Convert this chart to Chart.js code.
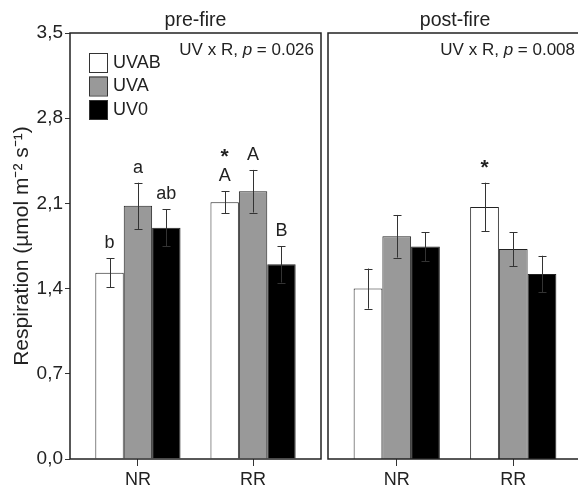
<!DOCTYPE html>
<html>
<head>
<meta charset="utf-8">
<script src="https://cdn.jsdelivr.net/npm/chart.js@4/dist/chart.umd.min.js"></script>
<style>
  html, body { margin: 0; padding: 0; background: #fff; overflow: hidden; }
  #pre { position: absolute; left: 0; top: 0; }
  #post { position: absolute; left: 324px; top: 0; }
</style>
</head>
<body>
<canvas id="pre" width="324" height="492"></canvas>
<canvas id="post" width="258" height="492"></canvas>
<script>
const categories = ['NR', 'RR'];
const treatments = ['UVAB', 'UVA', 'UV0'];
const treatmentColors = ['#ffffff', '#999999', '#000000'];
const yTicks = [0, 0.7, 1.4, 2.1, 2.8, 3.5];

// pre-fire means and standard errors
const preUVAB = [1.53, 2.11];
const preUVA = [2.08, 2.20];
const preUV0 = [1.90, 1.60];
const preUVABErr = [0.12, 0.09];
const preUVAErr = [0.19, 0.175];
const preUV0Err = [0.15, 0.15];
const preUVABLetters = ['b', 'A'];
const preUVALetters = ['a', 'A'];
const preUV0Letters = ['ab', 'B'];
const preStars = ['', '*'];

// post-fire
const postUVAB = [1.40, 2.07];
const postUVA = [1.83, 1.725];
const postUV0 = [1.745, 1.52];
const postUVABErr = [0.165, 0.2];
const postUVAErr = [0.175, 0.14];
const postUV0Err = [0.12, 0.15];
const postStars = ['', '*'];

const FONT = "'Liberation Sans', Arial, sans-serif";
const TXT = '#222';

function ds(i, values, errors, letters, stars) {
  return {
    label: treatments[i],
    data: values.map((v, k) => ({ x: k, y: v })),
    errors: errors,
    letters: letters || [],
    stars: stars || [],
    backgroundColor: treatmentColors[i],
    borderColor: '#222',
    borderWidth: 1,
    categoryPercentage: 0.74,
    barPercentage: 1
  };
}

const panelDecor = {
  id: 'panelDecor',
  afterDatasetsDraw(chart, args, opts) {
    const ctx = chart.ctx;
    const area = chart.chartArea;
    const y = chart.scales.y;
    ctx.save();
    // error bars and letters
    chart.data.datasets.forEach((d, di) => {
      const meta = chart.getDatasetMeta(di);
      meta.data.forEach((bar, i) => {
        const v = d.data[i].y, e = d.errors[i];
        const top = y.getPixelForValue(v + e);
        const bot = y.getPixelForValue(v - e);
        const x = Math.round(bar.x) + 0.5;
        ctx.strokeStyle = '#333';
        ctx.lineWidth = 1;
        ctx.beginPath();
        ctx.moveTo(x, top); ctx.lineTo(x, bot);
        ctx.moveTo(x - 4, Math.round(top) + 0.5); ctx.lineTo(x + 4, Math.round(top) + 0.5);
        ctx.moveTo(x - 4, Math.round(bot) + 0.5); ctx.lineTo(x + 4, Math.round(bot) + 0.5);
        ctx.stroke();
        ctx.fillStyle = TXT;
        ctx.textAlign = 'center';
        ctx.textBaseline = 'alphabetic';
        const letter = d.letters[i];
        if (letter) {
          ctx.font = '18px ' + FONT;
          ctx.fillText(letter, bar.x, top - 10);
        }
        if (d.stars[i]) {
          ctx.font = 'bold 21px ' + FONT;
          ctx.fillText(d.stars[i], bar.x, letter ? top - 28 : top - 9);
        }
      });
    });
    // panel box
    ctx.strokeStyle = '#222';
    ctx.lineWidth = 1.5;
    ctx.strokeRect(area.left, area.top, area.right - area.left, area.bottom - area.top);
    // panel title
    ctx.fillStyle = TXT;
    ctx.textAlign = 'center';
    ctx.font = '19.5px ' + FONT;
    ctx.fillText(opts.title, (area.left + area.right) / 2, area.top - 7);
    // interaction text, p in italics
    const parts = [['UV x R, ', ''], ['p', 'italic '], [' = ' + opts.pValue, '']];
    let w = 0;
    parts.forEach(p => { ctx.font = p[1] + '17px ' + FONT; w += ctx.measureText(p[0]).width; });
    let px = area.right - 7 - w;
    ctx.textAlign = 'left';
    parts.forEach(p => {
      ctx.font = p[1] + '17px ' + FONT;
      ctx.fillText(p[0], px, area.top + 22);
      px += ctx.measureText(p[0]).width;
    });
    // legend
    if (opts.legend) {
      chart.data.datasets.forEach((d, i) => {
        const bx = area.left + 19, by = area.top + 20 + i * 23.5;
        ctx.fillStyle = d.backgroundColor;
        ctx.fillRect(bx, by, 18, 19);
        ctx.strokeStyle = '#333';
        ctx.lineWidth = 1;
        ctx.strokeRect(bx + 0.5, by + 0.5, 18, 19);
        ctx.fillStyle = TXT;
        ctx.font = '18px ' + FONT;
        ctx.textBaseline = 'middle';
        ctx.fillText(d.label, bx + 24, by + 10);
      });
    }
    ctx.restore();
  }
};

function makeChart(id, datasets, decor, isLeft) {
  return new Chart(document.getElementById(id), {
    type: 'bar',
    data: { datasets: datasets },
    plugins: [panelDecor],
    options: {
      responsive: false,
      animation: false,
      layout: { padding: { top: 33, right: isLeft ? 3 : 0, left: isLeft ? 0 : 4, bottom: 0 } },
      plugins: { legend: { display: false }, tooltip: { enabled: false }, panelDecor: decor },
      scales: {
        x: {
          type: 'linear',
          offset: false,
          min: -0.59,
          max: 1.59,
          afterBuildTicks: s => { s.ticks = categories.map((c, k) => ({ value: k })); },
          afterFit: s => { s.height = 33; },
          ticks: {
            callback: v => categories[v],
            color: TXT,
            font: { family: FONT, size: 18 },
            padding: 3,
            maxRotation: 0
          },
          grid: { offset: false, drawOnChartArea: false, tickLength: 7, color: '#333' },
          border: { display: false }
        },
        y: {
          display: isLeft,
          min: 0,
          max: 3.5,
          afterBuildTicks: s => { s.ticks = yTicks.map(v => ({ value: v })); },
          afterFit: s => { s.width = isLeft ? 70 : 0; },
          ticks: {
            callback: v => v.toFixed(1).replace('.', ','),
            color: TXT,
            font: { family: FONT, size: 19 },
            padding: 2
          },
          grid: { drawOnChartArea: false, tickLength: 5, color: '#333' },
          border: { display: false },
          title: {
            display: true,
            text: 'Respiration (µmol m⁻² s⁻¹)',
            color: TXT,
            font: { family: FONT, size: 21 },
            padding: { top: 10, bottom: 0 }
          }
        }
      }
    }
  });
}

makeChart('pre', [
  ds(0, preUVAB, preUVABErr, preUVABLetters, preStars),
  ds(1, preUVA, preUVAErr, preUVALetters),
  ds(2, preUV0, preUV0Err, preUV0Letters)
], { title: 'pre-fire', pValue: '0.026', legend: true }, true);

makeChart('post', [
  ds(0, postUVAB, postUVABErr, null, postStars),
  ds(1, postUVA, postUVAErr),
  ds(2, postUV0, postUV0Err)
], { title: 'post-fire', pValue: '0.008', legend: false }, false);
</script>
</body>
</html>
